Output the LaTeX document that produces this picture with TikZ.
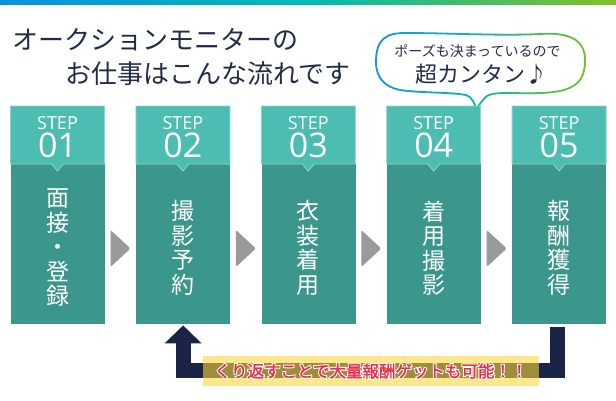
\documentclass[tikz,border=0pt]{standalone}
\usepackage{fontspec}
\setmainfont{Open Sans}
\newfontfamily\jp{Noto Sans CJK JP}
\newfontfamily\jpred{Noto Sans CJK JP}[FakeBold=1.6]
\newfontfamily\jphalo{Noto Sans CJK JP}[FakeBold=14]
\usetikzlibrary{arrows.meta,calc}
\definecolor{barblue}{HTML}{0A90E0}
\definecolor{barteal}{HTML}{00B9B5}
\definecolor{bargreen}{HTML}{84BE26}
\definecolor{bblue}{HTML}{1496DC}
\definecolor{bteal}{HTML}{17B5A5}
\definecolor{bgreen}{HTML}{7BBF2C}
\definecolor{navytext}{HTML}{222C48}
\definecolor{headcol}{HTML}{4DBDB2}
\definecolor{headborder}{HTML}{8DD6CF}
\definecolor{bodycol}{HTML}{3B978B}
\definecolor{arrowgray}{HTML}{9A9A9A}
\definecolor{loopnavy}{HTML}{1A2446}
\definecolor{hlyellow}{HTML}{FFD937}
\definecolor{redtext}{HTML}{E6304A}
\def\bubblepath{(376,62) .. controls (376,40) and (385,33) .. (405,33)
 .. controls (450,33) and (500,36) .. (540,34)
 .. controls (570,32) and (585,40) .. (585,60)
 .. controls (585,82) and (575,92) .. (540,93)
 .. controls (515,94) and (495,91) .. (487,96)
 .. controls (482,100) and (480,105) .. (476,108)
 .. controls (474,103) and (473,98) .. (466,95)
 .. controls (450,92) and (420,93) .. (400,90)
 .. controls (385,87) and (376,78) .. (376,62) -- cycle}
\begin{document}
\begin{tikzpicture}[x=1pt,y=-1pt,
  hdr/.style={fill=headcol,draw=headborder,line width=0.8pt},
  bodybox/.style={fill=bodycol,minimum width=94pt,minimum height=160pt,inner sep=0pt,anchor=north west},
  steplbl/.style={text=white,font=\fontsize{34}{28}\selectfont,align=center,anchor=south,text depth=0pt,inner sep=0pt},
  stepbody/.style={text=white,font=\jp\fontsize{23}{24.5}\selectfont,align=center,inner sep=0pt},
  flowarrow/.style={fill=arrowgray,rounded corners=1.5pt},
  loopline/.style={draw=loopnavy,line width=15pt,-{Triangle[length=18pt,width=36pt]}},
  titletext/.style={text=navytext,font=\jp\fontsize{26}{26}\selectfont,anchor=west,inner sep=0pt},
]
\useasboundingbox (0,0) rectangle (616,400);
\fill[white] (0,0) rectangle (616,400);
% top gradient bar
\shade[left color=barblue,right color=barteal] (0,0) rectangle (308.5,4.5);
\shade[left color=barteal,right color=bargreen] (308,0) rectangle (616,4.5);
% title
\node[titletext] (t1) at (12,40) {オークションモニターの};
\node[titletext] (t2) at (65,74) {お仕事はこんな流れです};
% speech bubble
\fill[white] \bubblepath;
\foreach \i in {0,...,43}{
  \pgfmathsetmacro\xa{370+5*\i}
  \pgfmathtruncatemacro\p{\i*100/43}
  \ifnum\p<50 \pgfmathtruncatemacro\q{2*\p}\colorlet{bc}{bteal!\q!bblue}%
  \else \pgfmathtruncatemacro\q{2*\p-100}\colorlet{bc}{bgreen!\q!bteal}\fi
  \begin{scope}
    \clip (\xa,20) rectangle ++(5.4,95);
    \draw[bc,line width=1.8pt] \bubblepath;
  \end{scope}
}
\node[text=navytext,font=\jp\fontsize{14}{14}\selectfont,inner sep=0pt] (b1) at (477.5,51) {ポーズも決まっているので};
\node[text=navytext,font=\jp\fontsize{22}{22}\selectfont,inner sep=0pt] (b2) at (481,74) {超カンタン♪};
% steps
\foreach \i/\n/\num/\txt in {0/1/01/{面\\接\\・\\登\\録},1/2/02/{撮\\影\\予\\約},2/3/03/{衣\\装\\着\\用},3/4/04/{着\\用\\撮\\影},4/5/05/{報\\酬\\獲\\得}}{
  \pgfmathsetmacro\xo{10.5+125.4*\i}
  \pgfmathsetmacro\cx{\xo+47}
  \node[bodybox] (s\n) at (\xo,164) {};
  \draw[hdr] (\xo,106) -- ++(94,0) -- ++(0,58) -- (\cx+6,164) -- (\cx,171) -- (\cx-6,164) -- (\xo,164) -- cycle;
  \node[steplbl] (l\n) at (\cx,158) {{\fontsize{18}{18}\selectfont STEP}\\\num};
  \node[stepbody] (w\n) at (\cx,248) {\txt};
}
% flow arrows
\foreach \i in {0,...,3}{
  \pgfmathsetmacro\xo{10.5+125.4*\i+100}
  \fill[flowarrow] (\xo,230) -- (\xo+20,248.5) -- (\xo,267) -- cycle;
}
% loop connector
\draw[loopline] ($(s5.south)+(-1.5,3)$) -- ($(s5.south)+(-1.5,46)$) -| ($(s2.south)+(0,1)$);
% highlight
\node[fill=hlyellow,fill opacity=0.58,minimum width=336pt,minimum height=30pt,inner sep=0pt] (hl) at (371,371) {};
\node[text=white,font=\jphalo\fontsize{16.5}{16.5}\selectfont,inner sep=0pt] (halo) at (hl) {くり返すことで大量報酬ゲットも可能！！};
\node[text=redtext,font=\jpred\fontsize{16.5}{16.5}\selectfont,inner sep=0pt] (msg) at (hl) {くり返すことで大量報酬ゲットも可能！！};
\end{tikzpicture}
\end{document}
